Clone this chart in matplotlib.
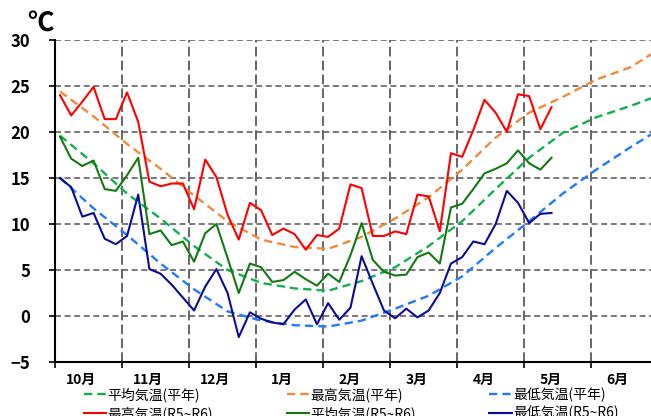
import matplotlib
matplotlib.use("Agg")
import matplotlib.pyplot as plt
from matplotlib.lines import Line2D

plt.rcParams['font.family'] = ['Noto Sans CJK JP', 'DejaVu Sans']
plt.rcParams['lines.scale_dashes'] = False

# 月ラベル
months = ['10月', '11月', '12月', '1月', '2月', '3月', '4月', '5月', '6月']

# 半旬(5日)ごとの値 R5~R6 (10月第1半旬から)
high = [24.0, 21.8, 23.3, 24.9, 21.4, 21.4, 24.3, 21.1, 14.6, 14.1,
        14.4, 14.4, 11.6, 17.0, 15.1, 11.0, 8.3, 12.3, 11.5, 8.8,
        9.5, 8.9, 7.2, 8.8, 8.6, 9.5, 14.3, 13.9, 8.7, 8.7,
        9.2, 8.9, 13.2, 13.0, 9.2, 17.7, 17.3, 20.2, 23.5, 22.1,
        20.0, 24.1, 23.9, 20.3, 22.7]
mean = [19.5, 17.1, 16.3, 16.9, 13.8, 13.6, 15.3, 17.2, 8.9, 9.3,
        7.7, 8.1, 5.9, 9.0, 10.0, 6.3, 2.5, 5.7, 5.3, 3.7,
        3.9, 4.8, 4.0, 3.3, 4.6, 3.7, 6.6, 10.1, 6.1, 4.8,
        4.4, 4.5, 6.4, 6.9, 5.7, 11.8, 12.2, 13.8, 15.5, 16.0,
        16.6, 18.0, 16.6, 15.9, 17.2]
low = [15.0, 14.0, 10.8, 11.2, 8.4, 7.8, 8.7, 13.2, 5.1, 4.6,
       3.4, 2.0, 0.6, 3.2, 5.1, 2.5, -2.3, 0.4, -0.3, -0.7,
       -0.9, 0.7, 1.8, -0.9, 1.4, -0.4, 0.9, 6.5, 3.5, 0.6,
       -0.25, 0.8, -0.15, 0.6, 2.5, 5.7, 6.4, 8.1, 7.8, 10.0,
       13.6, 12.3, 10.1, 11.1, 11.2]

# 平年値 (3半旬ごとに読み取り)
norm_idx = [0, 3, 6, 9, 12, 15, 18, 21, 24, 27, 30, 33, 36, 39, 42, 45, 48, 51, 53]
norm_high = [24.4, 21.7, 18.7, 16.0, 13.1, 10.3, 8.3, 7.5, 7.3, 8.6,
             10.6, 12.9, 15.9, 19.4, 22.1, 23.8, 25.7, 27.0, 28.5]
norm_mean = [19.6, 16.6, 13.3, 10.6, 7.6, 5.0, 3.6, 3.0, 2.75, 3.8,
             5.3, 7.6, 10.3, 13.8, 17.2, 19.9, 21.6, 22.8, 23.7]
norm_low = [15.0, 11.7, 8.8, 5.7, 2.9, 0.5, -0.5, -1.0, -1.15, -0.5,
            0.8, 2.2, 4.3, 7.4, 10.3, 13.3, 15.9, 18.3, 19.8]

off = 0.45
x_obs = [i + off for i in range(len(high))]
x_norm = [i + off for i in norm_idx]

fig = plt.figure(figsize=(6.51, 4.16), dpi=100)
ax = fig.add_axes([55 / 651, 1 - 362 / 416, 1 - 55 / 651, (362 - 40) / 416])

dash = (0, (6.0, 3.6))
ax.plot(x_norm, norm_high, color='#f08a3c', lw=1.7, linestyle=dash, zorder=3)
ax.plot(x_norm, norm_mean, color='#12b04e', lw=1.7, linestyle=dash, zorder=3)
ax.plot(x_norm, norm_low, color='#1f7bff', lw=1.7, linestyle=dash, zorder=3)
ax.plot(x_obs, high, color='#ff0000', lw=1.5, zorder=4)
ax.plot(x_obs, mean, color='#137a13', lw=1.5, zorder=4)
ax.plot(x_obs, low, color='#0c0c98', lw=1.5, zorder=4)

ax.set_xlim(0, 596 / 11.17)
ax.set_ylim(-5, 30)

# 軸
for s in ['top', 'right']:
    ax.spines[s].set_visible(False)
ax.spines['left'].set_linewidth(1.5)
ax.spines['bottom'].set_linewidth(1.5)

ax.set_yticks(range(-5, 31, 5))
ax.tick_params(axis='y', length=4, width=1.2, pad=14, labelsize=12)
for t in ax.get_yticklabels():
    t.set_fontweight('bold')

bounds = [6 * k for k in range(len(months))]
ax.set_xticks(bounds)
ax.set_xticklabels([])
ax.set_xticks([b + 2.35 for b in bounds], months, minor=True)
ax.tick_params(axis='x', which='major', length=4, width=1.2)
ax.tick_params(axis='x', which='minor', length=0, pad=8, labelsize=10)
for t in ax.get_xticklabels(minor=True):
    t.set_fontweight('bold')

# グリッド
for v in range(0, 31, 5):
    ax.axhline(v, color='#555555', lw=1.1, linestyle=(0, (4.3, 2.6)), zorder=1)
for b in bounds[1:]:
    ax.axvline(b, color='#666666', lw=1.4, linestyle=(0, (7.0, 3.0)), zorder=1)

fig.text(40 / 651, 1 - 24 / 416, '℃', fontsize=19, fontweight='bold',
         ha='center', va='center')

# 凡例
handles = [
    Line2D([], [], color='#12b04e', lw=1.7, linestyle=dash),
    Line2D([], [], color='#ff0000', lw=1.5),
    Line2D([], [], color='#f08a3c', lw=1.7, linestyle=dash),
    Line2D([], [], color='#137a13', lw=1.5),
    Line2D([], [], color='#1f7bff', lw=1.7, linestyle=dash),
    Line2D([], [], color='#0c0c98', lw=1.5),
]
labels = ['平均気温(平年)', '最高気温(R5~R6)', '最高気温(平年)',
          '平均気温(R5~R6)', '最低気温(平年)', '最低気温(R5~R6)']
fig.legend(handles, labels, ncol=3, loc='upper left',
           bbox_to_anchor=(84 / 651, 1 - 387 / 416), frameon=False,
           fontsize=10, handlelength=1.6, handletextpad=0.1,
           columnspacing=5.3, labelspacing=0.3, borderpad=0, borderaxespad=0)

fig.savefig('out.png', dpi=100)
